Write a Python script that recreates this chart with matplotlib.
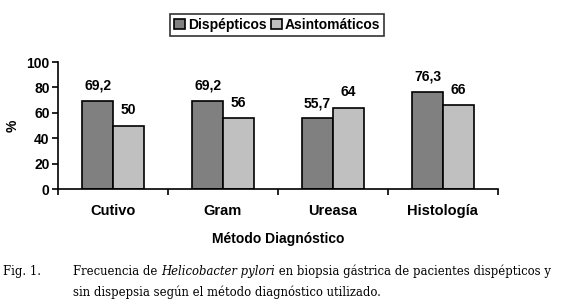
import matplotlib.pyplot as plt
import numpy as np

categorias = ["Cutivo", "Gram", "Ureasa", "Histología"]
dispepticos = [69.2, 69.2, 55.7, 76.3]
asintomaticos = [50, 56, 64, 66]
etiq_disp = ["69,2", "69,2", "55,7", "76,3"]
etiq_asin = ["50", "56", "64", "66"]

plt.rcParams['font.family'] = ['Liberation Sans', 'DejaVu Sans']
plt.rcParams['font.weight'] = 'bold'

fig = plt.figure(figsize=(5.61, 3.04), dpi=100)
ax = fig.add_axes([0.1034, 0.378, 0.784, 0.418])

x = np.arange(len(categorias))
w = 0.28
b1 = ax.bar(x - w/2, dispepticos, w, color='#808080', edgecolor='black', lw=1.2, label='Dispépticos')
b2 = ax.bar(x + w/2, asintomaticos, w, color='#c0c0c0', edgecolor='black', lw=1.2, label='Asintomáticos')

for rect, t in zip(b1, etiq_disp):
    ax.annotate(t, (rect.get_x() + rect.get_width()/2, rect.get_height()), xytext=(0, 11),
                textcoords='offset points', ha='center', va='center', fontsize=10, fontweight='bold')
for rect, t in zip(b2, etiq_asin):
    ax.annotate(t, (rect.get_x() + rect.get_width()/2, rect.get_height()), xytext=(0, 11),
                textcoords='offset points', ha='center', va='center', fontsize=10, fontweight='bold')

ax.set_xlim(-0.5, 3.5)
ax.set_ylim(0, 100)
ax.set_yticks(range(0, 101, 20))
ax.set_xticks(np.arange(-0.5, 4, 1))
ax.set_xticklabels([])
ax.set_xticks(x, minor=True)
ax.set_xticklabels(categorias, minor=True, fontsize=10.5, fontweight='bold')
ax.tick_params(axis='x', which='minor', length=0, pad=11)
ax.tick_params(axis='x', which='major', length=4, width=1.2, direction='out')
ax.tick_params(axis='y', length=4, width=1.2, labelsize=10, pad=2)
for lab in ax.get_yticklabels():
    lab.set_fontweight('bold')
for s in ['top', 'right']:
    ax.spines[s].set_visible(False)
for s in ['left', 'bottom']:
    ax.spines[s].set_linewidth(1.2)

ax.set_xlabel("Método Diagnóstico", fontsize=10, fontweight='bold', labelpad=10)
fig.text(0.022, 0.587, "%", rotation=90, fontsize=10, fontweight='bold', ha='center', va='center')

leg = fig.legend(loc='center', bbox_to_anchor=(0.494, 0.918), ncol=2, fontsize=10,
                 frameon=True, fancybox=False, handlelength=0.8, handleheight=0.8,
                 handletextpad=0.2, columnspacing=0.3, borderpad=0.3, borderaxespad=0)
leg.get_frame().set_edgecolor('black')
leg.get_frame().set_linewidth(1.2)
for t in leg.get_texts():
    t.set_fontweight('bold')

# pie de figura
cap = dict(family='DejaVu Serif', fontsize=8.4, fontweight='normal', va='baseline')
fig.text(0.005, 0.097, "Fig. 1.", **cap)
fig.canvas.draw()
r = fig.canvas.get_renderer()
piezas = [("Frecuencia de ", 'normal'), ("Helicobacter pylori", 'italic'),
          (" en biopsia gástrica de pacientes dispépticos y", 'normal')]
xp = 73 / 561
for txt, st in piezas:
    t = fig.text(xp, 0.097, txt, style=st, **cap)
    bb = t.get_window_extent(r)
    xp = bb.x1 / fig.bbox.width
fig.text(73 / 561, 0.027, "sin dispepsia según el método diagnóstico utilizado.", **cap)

fig.savefig("out.png", dpi=100)
